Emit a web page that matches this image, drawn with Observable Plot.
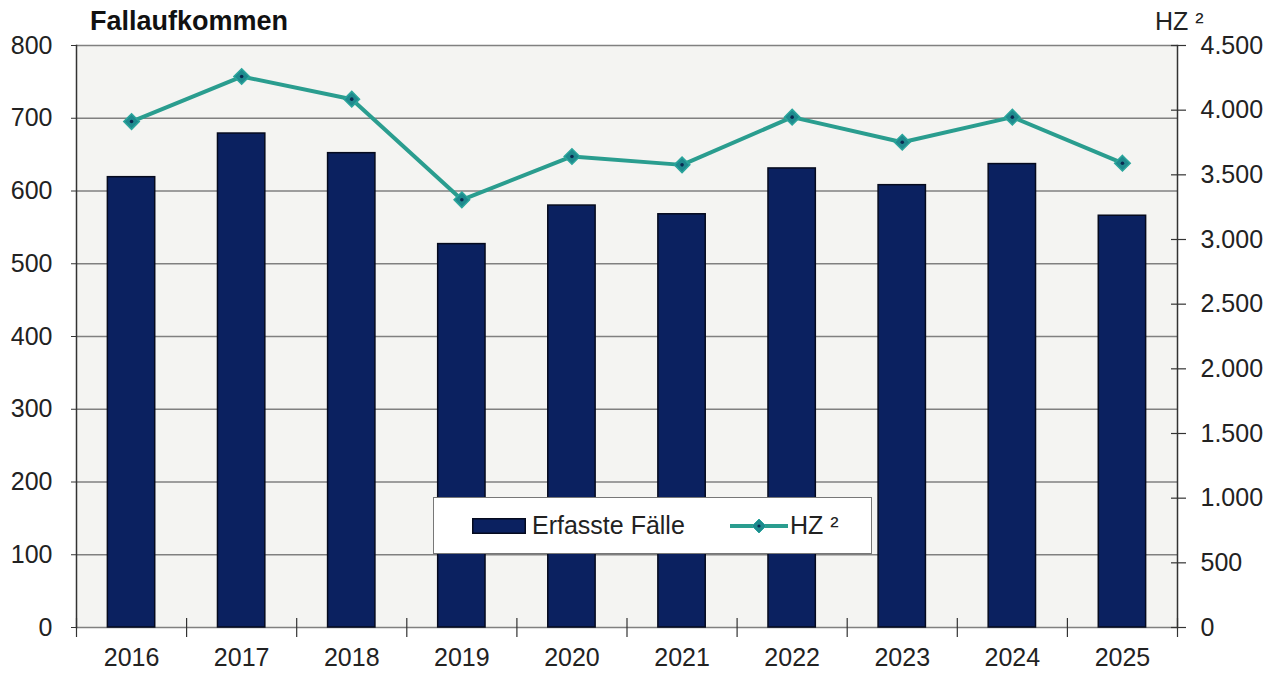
<!DOCTYPE html>
<html><head><meta charset="utf-8">
<script src="https://cdn.jsdelivr.net/npm/d3@7"></script>
<script src="https://cdn.jsdelivr.net/npm/@observablehq/plot@0.6"></script>
<style>
body{margin:0;background:#fff;font-family:"Liberation Sans",Arial,sans-serif;color:#222;}
#wrap{position:relative;width:1282px;height:675px;overflow:hidden;}
.title{position:absolute;left:90px;top:6px;font-weight:bold;font-size:27px;color:#111;}
.hz{position:absolute;left:1155px;top:7px;font-size:25px;color:#222;}
.legend{position:absolute;left:433px;top:497px;width:439px;height:57px;background:#fff;border:1.5px solid #777;box-sizing:border-box;font-size:25px;}
.legend .item{position:absolute;top:0;height:100%;display:flex;align-items:center;}
</style></head><body>
<div id="wrap">
  <div class="title">Fallaufkommen</div>
  <div class="hz">HZ ²</div>
</div>
<script>
const years = [2016, 2017, 2018, 2019, 2020, 2021, 2022, 2023, 2024, 2025];
const cases = [619, 679, 652, 527, 580, 568, 631, 608, 637, 566];
const hz = [3912, 4260, 4085, 3307, 3642, 3577, 3946, 3752, 3946, 3590];
const leftTicks = [0, 100, 200, 300, 400, 500, 600, 700, 800];
const rightTicks = [0, 500, 1000, 1500, 2000, 2500, 3000, 3500, 4000, 4500];
const seriesNames = ["Erfasste Fälle", "HZ ²"];

const leftMax = leftTicks[leftTicks.length - 1];
const rightMax = rightTicks[rightTicks.length - 1];
const k = leftMax / rightMax;
const fmt = d3.formatLocale({decimal: ",", thousands: ".", grouping: [3], currency: ["", "€"]}).format(",d");

const data = years.map((y, i) => ({year: y, cases: cases[i], hz: hz[i]}));
const bounds = [years[0] - 0.5, ...years.map(y => y + 0.5)];

const barColor = "#0b2160";
const lineColor = "#2a9d8f";

const chart = Plot.plot({
  width: 1282, height: 675,
  marginLeft: 76, marginRight: 105, marginTop: 45, marginBottom: 48,
  style: {fontFamily: "'Liberation Sans', Arial, sans-serif", fontSize: "25px", color: "#222", background: "transparent", overflow: "visible"},
  x: {type: "linear", domain: [years[0] - 0.5, years[years.length - 1] + 0.5], label: null},
  y: {domain: [0, leftMax], label: null},
  marks: [
    Plot.frame({fill: "#f4f4f2", stroke: null}),
    Plot.ruleY(leftTicks, {stroke: "#808080", strokeWidth: 1.5}),
    Plot.rectY(data, {x1: d => d.year - 0.215, x2: d => d.year + 0.215, y1: 0, y2: "cases", fill: barColor, stroke: "#050a1e", strokeWidth: 1.5}),
    Plot.frame({anchor: "left", stroke: "#333", strokeWidth: 1.5}),
    Plot.frame({anchor: "right", stroke: "#333", strokeWidth: 1.5}),
    Plot.axisX(bounds, {anchor: "bottom", label: null, tickSize: 19, dy: -9, stroke: "#333", strokeWidth: 1.2, tickFormat: () => ""}),
    Plot.axisX(years, {anchor: "bottom", label: null, tickSize: 0, tickPadding: 21, tickFormat: d => String(d), fontSize: 25}),
    Plot.axisY(leftTicks, {anchor: "left", label: null, tickSize: 5, tickPadding: 19, stroke: "#333", tickFormat: d => String(d), fontSize: 25}),
    Plot.axisY(rightTicks.map(v => v * k), {anchor: "right", label: null, tickSize: 15, dx: -7, stroke: "#333", strokeWidth: 1.2, tickFormat: () => ""}),
    Plot.axisY(rightTicks.map(v => v * k), {anchor: "right", label: null, tickSize: 0, tickPadding: 23, tickFormat: d => fmt(Math.round(d / k)), fontSize: 25}),
    Plot.line(data, {x: "year", y: d => d.hz * k, stroke: lineColor, strokeWidth: 4}),
    Plot.dot(data, {x: "year", y: d => d.hz * k, symbol: "diamond2", r: 7, fill: "#1f8a8e", stroke: "#2aa59c", strokeWidth: 1.5}),
    Plot.dot(data, {x: "year", y: d => d.hz * k, r: 1.8, fill: "#0a2a50"})
  ]
});
const wrap = document.getElementById("wrap");
chart.style.position = "absolute";
chart.style.left = "0";
chart.style.top = "0";
wrap.insertBefore(chart, wrap.firstChild);

const legend = document.createElement("div");
legend.className = "legend";
legend.innerHTML =
  `<div class="item" style="left:38px"><svg width="54" height="16" style="margin-right:6px"><rect x="0.75" y="0.75" width="52.5" height="14.5" fill="${barColor}" stroke="#050a1e" stroke-width="1.5"/></svg><span>${seriesNames[0]}</span></div>` +
  `<div class="item" style="left:296px"><svg width="58" height="16" style="margin-right:2px"><line x1="0" y1="8" x2="58" y2="8" stroke="${lineColor}" stroke-width="4"/><path d="M29,1 L36,8 L29,15 L22,8Z" fill="#1f8a8e" stroke="#2aa59c"/><circle cx="29" cy="8" r="1.6" fill="#0a2a50"/></svg><span>${seriesNames[1]}</span></div>`;
wrap.appendChild(legend);
</script>
</body></html>
